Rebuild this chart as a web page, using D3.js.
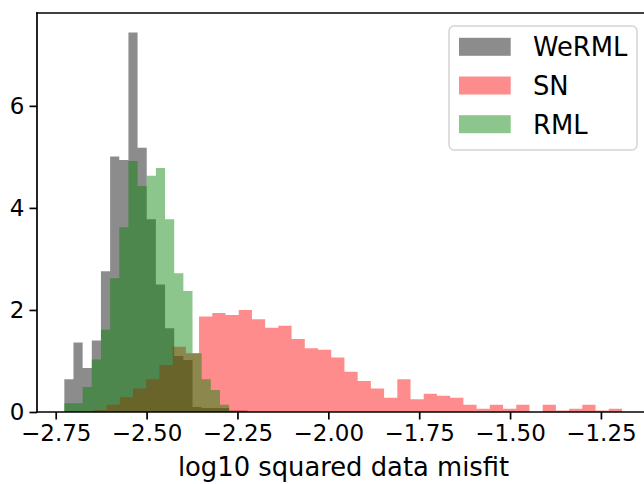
<!DOCTYPE html>
<html>
<head>
<meta charset="utf-8">
<script src="https://cdn.jsdelivr.net/npm/d3@7"></script>
<style>
  html, body { margin: 0; padding: 0; background: #fff; }
  svg { display: block; font-family: "DejaVu Sans", sans-serif; }
</style>
</head>
<body>
<svg id="chart" width="644" height="484"></svg>
<script>
// ---- data (density histograms) ----
const seriesNames = ["WeRML", "SN", "RML"];
const seriesColors = ["#000000", "#ff0000", "#008000"];

// WeRML and RML share bins: 20 bins over this range
const binRangeA = [-2.7263, -2.2225];
const weRML = [0.64, 1.36, 0.86, 1.40, 2.76, 5.01, 4.94, 7.44, 5.18, 3.78,
               2.50, 1.64, 1.10, 1.02, 0.10, 0.08, 0.08, 0.08, 0.03, 0.03];
const rml   = [0.17, 0.17, 0.49, 1.03, 1.61, 2.62, 3.62, 4.92, 4.43, 4.63,
               4.78, 3.78, 2.72, 2.37, 1.15, 0.64, 0.43, 0.14, 0, 0];

// SN: 40 bins over this range
const binRangeB = [-2.6465, -1.1921];
const sn = [0.04, 0.14, 0.29, 0.46, 0.64, 0.92, 1.28, 1.15, 1.87, 1.94,
            1.90, 2.00, 1.82, 1.65, 1.69, 1.43, 1.25, 1.22, 1.07, 0.79,
            0.61, 0.46, 0.28, 0.64, 0.25, 0.36, 0.32, 0.28, 0.14, 0.065,
            0.14, 0.065, 0.14, 0, 0.14, 0.03, 0.065, 0.14, 0.03, 0.065];

const xTicks = [-2.75, -2.50, -2.25, -2.00, -1.75, -1.50, -1.25];
const yTicks = [0, 2, 4, 6];
const xDomain = [-2.8015, -1.115];
const yDomain = [0, 7.82];
const xLabel = "log10 squared data misfit";

// ---- layout ----
const svg = d3.select("#chart");
const L = 37, R = 650, T = 13, B = 412;
const x = d3.scaleLinear().domain(xDomain).range([L, R]);
const y = d3.scaleLinear().domain(yDomain).range([B, T]);
const alpha = 0.45;

function edges(range, n) {
  const w = (range[1] - range[0]) / n;
  return d3.range(n + 1).map(i => range[0] + i * w);
}

svg.append("defs").append("clipPath").attr("id", "clip")
  .append("rect").attr("x", L).attr("y", T).attr("width", R - L).attr("height", B - T);

const area = d3.area()
  .curve(d3.curveStepAfter)
  .x(d => x(d[0]))
  .y0(y(0))
  .y1(d => y(d[1]));

function histPath(range, vals) {
  const e = edges(range, vals.length);
  const pts = e.map((v, i) => [v, i < vals.length ? vals[i] : 0]);
  return area(pts);
}

const plot = svg.append("g").attr("clip-path", "url(#clip)");
const hists = [[binRangeA, weRML], [binRangeB, sn], [binRangeA, rml]];
hists.forEach((h, i) => {
  plot.append("path")
    .attr("d", histPath(h[0], h[1]))
    .attr("fill", seriesColors[i])
    .attr("fill-opacity", alpha);
});

// ---- axes ----
const tickFont = 23, labelFont = 25.8;
const xAxis = d3.axisBottom(x).tickValues(xTicks)
  .tickFormat(d => d3.format(".2f")(d).replace("-", "\u2212"))
  .tickSize(7.5).tickPadding(5);
const gx = svg.append("g").attr("transform", `translate(0,${B})`).call(xAxis);
gx.select(".domain").remove();
gx.selectAll(".tick line").attr("stroke", "#000").attr("stroke-width", 1.7);
gx.selectAll(".tick text").attr("font-size", tickFont).attr("fill", "#000")
  .attr("font-family", "DejaVu Sans");

const yAxis = d3.axisLeft(y).tickValues(yTicks).tickFormat(d3.format("d"))
  .tickSize(7.5).tickPadding(5);
const gy = svg.append("g").attr("transform", `translate(${L},0)`).call(yAxis);
gy.select(".domain").remove();
gy.selectAll(".tick line").attr("stroke", "#000").attr("stroke-width", 1.7);
gy.selectAll(".tick text").attr("font-size", tickFont).attr("fill", "#000")
  .attr("font-family", "DejaVu Sans");

// spines
const spine = (x1, y1, x2, y2) => svg.append("line")
  .attr("x1", x1).attr("y1", y1).attr("x2", x2).attr("y2", y2)
  .attr("stroke", "#000").attr("stroke-width", 1.7).attr("stroke-linecap", "square");
spine(L, T, L, B);
spine(L, B, R, B);
spine(L, T, R, T);
spine(R, T, R, B);

svg.append("text")
  .attr("x", (L + R) / 2).attr("y", 476)
  .attr("text-anchor", "middle")
  .attr("font-size", labelFont).attr("fill", "#000")
  .text(xLabel);

// ---- legend ----
const lg = svg.append("g");
lg.append("rect")
  .attr("x", 449).attr("y", 26).attr("width", 188).attr("height", 124)
  .attr("rx", 5).attr("ry", 5)
  .attr("fill", "#fff").attr("fill-opacity", 0.8)
  .attr("stroke", "#d4d4d4").attr("stroke-width", 1.5);
const rowY = d3.scaleLinear().domain([0, 2]).range([46.8, 124.2]);
seriesNames.forEach((name, i) => {
  const cy = rowY(i);
  lg.append("rect")
    .attr("x", 459).attr("y", cy - 9).attr("width", 51.7).attr("height", 18)
    .attr("fill", seriesColors[i]).attr("fill-opacity", alpha);
  lg.append("text")
    .attr("x", 533).attr("y", cy + 9.4)
    .attr("font-size", labelFont).attr("fill", "#000")
    .text(name);
});
</script>
</body>
</html>
